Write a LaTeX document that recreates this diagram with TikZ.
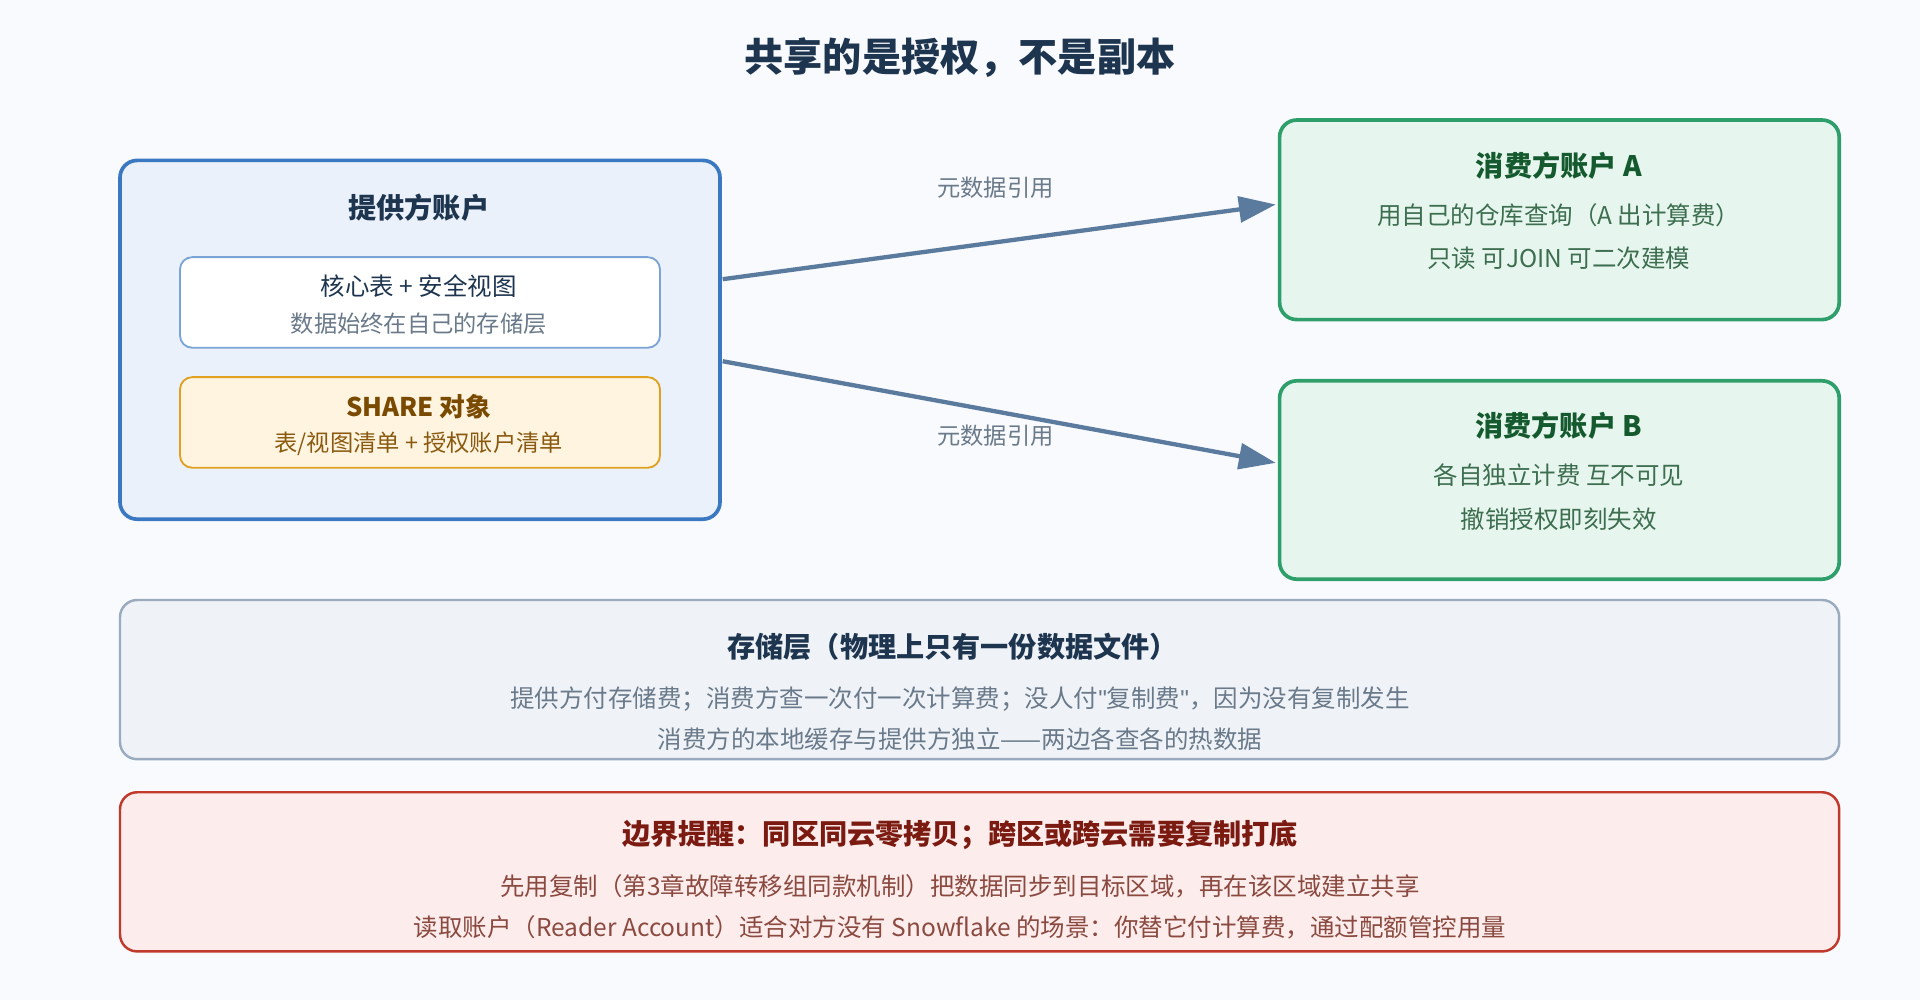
\documentclass[tikz,border=0pt]{standalone}
\usepackage{fontspec}
\setmainfont{Noto Sans CJK SC}
\newfontfamily\qfont{Liberation Sans}
\usetikzlibrary{arrows.meta}
\definecolor{bgc}{HTML}{F8FAFD}
\definecolor{navy}{HTML}{1E3550}
\definecolor{pfill}{HTML}{EAF1FB}\definecolor{pline}{HTML}{3B78C2}
\definecolor{ifline}{HTML}{7AA3D6}
\definecolor{sfill}{HTML}{FFF4E0}\definecolor{sline}{HTML}{E0A020}\definecolor{sbrown}{HTML}{7A4A00}\definecolor{sbrown2}{HTML}{8A5A10}
\definecolor{cfill}{HTML}{E6F6EE}\definecolor{cline}{HTML}{2E9E6A}\definecolor{cdark}{HTML}{155A2E}\definecolor{ctext}{HTML}{3E6E50}
\definecolor{arr}{HTML}{5A7A9E}
\definecolor{gfill}{HTML}{EFF3F8}\definecolor{gline}{HTML}{9AABBF}\definecolor{gtext}{HTML}{6A7A8A}
\definecolor{rfill}{HTML}{FDECEC}\definecolor{rline}{HTML}{C0392B}\definecolor{rdark}{HTML}{7A1A10}\definecolor{rtext}{HTML}{8A4A40}
\begin{document}
\begin{tikzpicture}[x=1pt,y=-1pt,
 box/.style={draw,rounded corners=14pt,inner sep=0pt},
 t/.style={font=\fontsize{20}{24}\selectfont,anchor=center,inner sep=0pt},
 tb/.style={font=\fontsize{23}{27}\selectfont\bfseries,anchor=center,inner sep=0pt},
 arrow/.style={draw=arr,line width=3.5pt,-{Triangle[length=30pt,width=21pt]}}]
\fill[bgc] (0,0) rectangle (1568,817);
\useasboundingbox (0,0) rectangle (1568,817);
\node[font=\fontsize{32}{36}\selectfont\bfseries,text=navy] (title) at (784,47) {共享的是授权，不是副本};
% provider
\draw[box,fill=pfill,draw=pline,line width=3pt] (98,131) rectangle (588,424);
\path (98,131) -- (588,424) node[pos=0.5,minimum width=490pt,minimum height=293pt,inner sep=0pt] (prov) {};
\node[tb,text=navy] (provt) at (342,170) {提供方账户};
\draw[box,rounded corners=10pt,fill=white,draw=ifline,line width=1.5pt] (147,210) rectangle (539,284);
\node[t,text=navy] (core1) at (342,234) {核心表 + 安全视图};
\node[t,text=gtext,font=\fontsize{19}{22}\selectfont] (core2) at (342,264) {数据始终在自己的存储层};
\draw[box,rounded corners=10pt,fill=sfill,draw=sline,line width=1.5pt] (147,308) rectangle (539,382);
\node[t,text=sbrown,font=\fontsize{21}{24}\selectfont\bfseries] (sh1) at (342,332) {SHARE 对象};
\node[t,text=sbrown2,font=\fontsize{19}{22}\selectfont] (sh2) at (342,362) {表/视图清单 + 授权账户清单};
% consumers
\draw[box,fill=cfill,draw=cline,line width=3pt] (1045,98) rectangle (1502,261);
\path (1045,98) -- (1502,261) node[pos=0.5,minimum width=457pt,minimum height=163pt,inner sep=0pt] (ca) {};
\node[tb,text=cdark] (cat) at (1273,135) {消费方账户 A};
\node[t,text=ctext] (ca1) at (1273,176) {用自己的仓库查询（A 出计算费）};
\node[t,text=ctext] (ca2) at (1273,211) {只读 可JOIN 可二次建模};
\draw[box,fill=cfill,draw=cline,line width=3pt] (1045,311) rectangle (1502,473);
\path (1045,311) -- (1502,473) node[pos=0.5,minimum width=457pt,minimum height=162pt,inner sep=0pt] (cb) {};
\node[tb,text=cdark] (cbt) at (1273,348) {消费方账户 B};
\node[t,text=ctext] (cb1) at (1273,388) {各自独立计费 互不可见};
\node[t,text=ctext] (cb2) at (1273,424) {撤销授权即刻失效};
% arrows
\draw[arrow] ([yshift=49.5pt,xshift=2pt]prov.east) -- ([yshift=12.5pt,xshift=-3pt]ca.west);
\draw[arrow] ([yshift=-17.5pt,xshift=2pt]prov.east) -- ([yshift=14pt,xshift=-3pt]cb.west);
\node[t,text=gtext,font=\fontsize{19}{22}\selectfont] (l1) at (813,153) {元数据引用};
\node[t,text=gtext,font=\fontsize{19}{22}\selectfont] (l2) at (813,356) {元数据引用};
% storage
\draw[box,fill=gfill,draw=gline,line width=2pt] (98,490) rectangle (1502,620);
\node[tb,text=navy] (st) at (778,528) {存储层（物理上只有一份数据文件）};
\node[t,text=gtext] (s1) at (784,571) {提供方付存储费；消费方查一次付一次计算费；没人付{\qfont\char"0022}复制费{\qfont\char"0022}，因为没有复制发生};
\node[t,text=gtext] (s2) at (784,604) {消费方的本地缓存与提供方独立——两边各查各的热数据};
% boundary
\draw[box,fill=rfill,draw=rline,line width=2pt] (98,647) rectangle (1502,777);
\node[tb,text=rdark] (bt) at (784,682) {边界提醒：同区同云零拷贝；跨区或跨云需要复制打底};
\node[t,text=rtext] (b1) at (784,724) {先用复制（第3章故障转移组同款机制）把数据同步到目标区域，再在该区域建立共享};
\node[t,text=rtext] (b2) at (784,757) {读取账户（Reader Account）适合对方没有 Snowflake 的场景：你替它付计算费，通过配额管控用量};
\end{tikzpicture}
\end{document}
